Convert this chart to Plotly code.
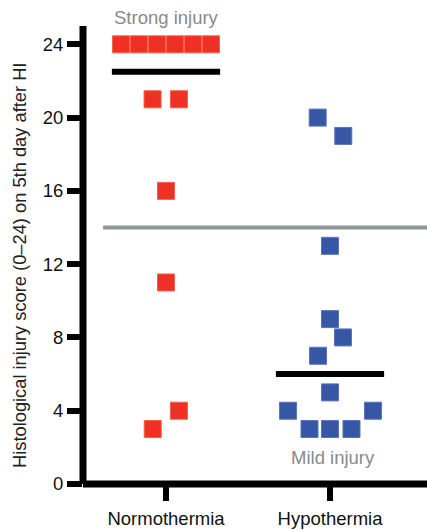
import numpy as np
import plotly.graph_objects as go

# Histological injury score (0-24) per animal, 5th day after HI
categories = ["Normothermia", "Hypothermia"]

normo_scores = [24, 24, 24, 24, 24, 24, 21, 21, 16, 11, 4, 3]
normo_offset = [-0.274, -0.165, -0.055, 0.055, 0.165, 0.274,
                -0.082, 0.079, 0.0, 0.0, 0.079, -0.081]

hypo_scores = [20, 19, 13, 9, 8, 7, 5, 4, 4, 3, 3, 3]
hypo_offset = [-0.075, 0.081, 0.0, 0.0, 0.079, -0.073, 0.0,
               -0.256, 0.262, -0.125, 0.0, 0.131]

y_ticks = [0, 4, 8, 12, 16, 20, 24]
injury_threshold = 14

FONT = "Liberation Sans, Arial, Helvetica, sans-serif"
RED = "#ee3124"
BLUE = "#3656a6"

# plot geometry (px)
W, H = 427, 530
L, R, T, B = 83, 0, 26, 46
plot_w = W - L - R
plot_h = H - T - B
px_per_cat = 164
x_lo = 1 - L / px_per_cat
x_hi = x_lo + plot_w / px_per_cat
y_lo, y_hi = 0, 25

fig = go.Figure()

groups = [
    (1, normo_scores, normo_offset, RED, "#f2604a"),
    (2, hypo_scores, hypo_offset, BLUE, "#5a74b8"),
]
for pos, scores, offs, col, edge in groups:
    fig.add_trace(go.Scatter(
        x=[pos + o for o in offs],
        y=scores,
        mode="markers",
        marker=dict(symbol="square", size=17, color=col,
                    line=dict(width=1, color=edge)),
        showlegend=False,
        hoverinfo="y",
        cliponaxis=False,
    ))
    med = float(np.median(scores))
    fig.add_shape(type="line", xref="x", yref="y",
                  x0=pos - 0.33, x1=pos + 0.33, y0=med, y1=med,
                  line=dict(color="black", width=6))

# threshold between strong and mild injury
fig.add_shape(type="line", xref="x", yref="y",
              x0=1 - 0.384, x1=x_hi, y0=injury_threshold, y1=injury_threshold,
              line=dict(color="#8e9898", width=4), layer="below")

# heavy axis frame
fig.add_shape(type="line", xref="paper", yref="paper",
              x0=0, x1=1, y0=0, y1=0, line=dict(color="black", width=7))
fig.add_shape(type="line", xref="paper", yref="paper",
              x0=0, x1=0, y0=0, y1=1, line=dict(color="black", width=7))

fig.add_annotation(x=1, y=1 + (T - 17) / plot_h, xref="x", yref="paper",
                   text="Strong injury",
                   showarrow=False, xanchor="center", yanchor="middle",
                   font=dict(family=FONT, size=18.5, color="#8a8a8a"))
fig.add_annotation(x=2.02, y=1.42, xref="x", yref="y", text="Mild injury",
                   showarrow=False, xanchor="center", yanchor="middle",
                   font=dict(family=FONT, size=18.5, color="#8a8a8a"))
fig.add_annotation(x=(19 - L) / plot_w, y=1 - (266 - T) / plot_h,
                   xref="paper", yref="paper",
                   text="Histological injury score (0\u201324) on 5th day after HI",
                   textangle=-90, showarrow=False,
                   xanchor="center", yanchor="middle",
                   font=dict(family=FONT, size=18.3, color="#222222"))

fig.update_xaxes(range=[x_lo, x_hi], tickvals=[1, 2], ticktext=categories,
                 ticks="outside", ticklen=16, tickwidth=6, tickcolor="black",
                 ticklabelstandoff=2,
                 showline=False, showgrid=False, zeroline=False,
                 tickfont=dict(family=FONT, size=18.5, color="#111111"))
fig.update_yaxes(range=[y_lo, y_hi], tickvals=y_ticks,
                 ticks="outside", ticklen=15, tickwidth=6, tickcolor="black",
                 showline=False, showgrid=False, zeroline=False,
                 tickfont=dict(family=FONT, size=18.5, color="#111111"))

fig.update_layout(
    width=W, height=H,
    margin=dict(l=L, r=R, t=T, b=B, pad=0),
    paper_bgcolor="white", plot_bgcolor="white",
    font=dict(family=FONT),
)

fig.write_html("out.html")
